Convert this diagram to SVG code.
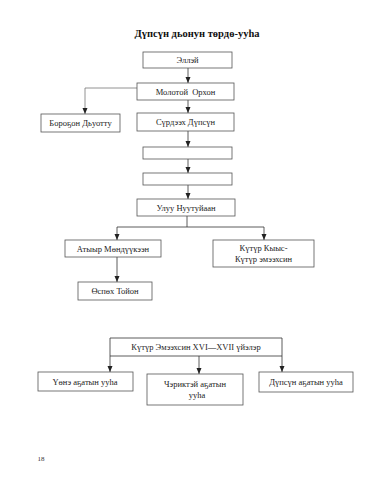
<svg xmlns="http://www.w3.org/2000/svg" width="382" height="480" viewBox="0 0 382 480">
<style>
.box{fill:#fff;stroke:#555;stroke-width:0.8}
.t{font-family:"Liberation Serif","DejaVu Serif",serif;font-size:8.5px;fill:#222;text-anchor:middle}
.title{font-family:"Liberation Serif","DejaVu Serif",serif;font-size:10.5px;font-weight:bold;fill:#111;text-anchor:middle}
.c{fill:none;stroke:#333;stroke-width:0.8}
.cl{fill:none;stroke:#777;stroke-width:0.8}
</style>
<defs>
<marker id="ah" viewBox="0 0 6 6" refX="6" refY="3" markerWidth="6" markerHeight="6" markerUnits="userSpaceOnUse" orient="auto">
<path d="M0,0.5 L6,3 L0,5.5 Z" fill="#222"/>
</marker>
</defs>
<rect width="382" height="480" fill="#fff"/>
<text class="title" x="197" y="37">Дүпсүн дьонун төрдө-ууһа</text>

<g id="connectors">
<path class="c" d="M188,68 V83" marker-end="url(#ah)"/>
<path class="cl" d="M137,88 H85 V114" marker-end="url(#ah)"/>
<path class="c" d="M188,100 V113" marker-end="url(#ah)"/>
<path class="c" d="M188,131 V147" marker-end="url(#ah)"/>
<path class="c" d="M188,159 V173" marker-end="url(#ah)"/>
<path class="c" d="M188,185 V199" marker-end="url(#ah)"/>
<path class="c" d="M187,216 V227"/>
<path class="c" d="M117,227 H264"/>
<path class="c" d="M117,227 V240" marker-end="url(#ah)"/>
<path class="c" d="M264,227 V240" marker-end="url(#ah)"/>
<path class="c" d="M117,257 V282" marker-end="url(#ah)"/>
<path class="c" d="M110,338 H282"/>
<path class="c" d="M110,356 H282"/>
<path class="c" d="M110,338 V372" marker-end="url(#ah)"/>
<path class="c" d="M282,338 V372" marker-end="url(#ah)"/>
<path class="c" d="M199,356 V374" marker-end="url(#ah)"/>
</g>

<g id="n-ellei"><rect class="box" x="143" y="52" width="89" height="16"/><text class="t" x="187.5" y="63">Эллэй</text></g>
<g id="n-molotoi"><rect class="box" x="137" y="83" width="97" height="17"/><text class="t" x="185.5" y="94.5" xml:space="preserve">Молотой  Орхон</text></g>
<g id="n-borogon"><rect class="box" x="41" y="114" width="79" height="18"/><text class="t" x="80.5" y="126">Бороҕон Дьуотту</text></g>
<g id="n-surdeeh"><rect class="box" x="137" y="113" width="97" height="18"/><text class="t" x="185.5" y="125">Сүрдээх Дүпсүн</text></g>
<g id="n-empty1"><rect class="box" x="143" y="147" width="89" height="12"/></g>
<g id="n-empty2"><rect class="box" x="143" y="173" width="89" height="12"/></g>
<g id="n-uluu"><rect class="box" x="137" y="199" width="98" height="17"/><text class="t" x="186" y="210.5">Улуу Нуутуйаан</text></g>
<g id="n-atyyr"><rect class="box" x="65" y="240" width="96" height="17"/><text class="t" x="113" y="251.5">Атыыр Мөндүүкээн</text></g>
<g id="n-kutur"><rect class="box" x="213" y="240" width="101" height="27"/><text class="t" x="263.5" y="251">Күтүр Кыыс-</text><text class="t" x="263.5" y="262">Күтүр эмээхсин</text></g>
<g id="n-ospoh"><rect class="box" x="78" y="282" width="74" height="18"/><text class="t" x="115" y="294">Өспөх Тойон</text></g>
<g id="n-kutur-emeehsin"><text class="t" x="196" y="350">Күтүр Эмээхсин XVI—XVII үйэлэр</text></g>
<g id="n-uone"><rect class="box" x="38" y="372" width="95" height="19"/><text class="t" x="85" y="384.5">Үөнэ аҕатын ууһа</text></g>
<g id="n-cheriktei"><rect class="box" x="147" y="374" width="96" height="31"/><text class="t" x="195" y="387">Чэриктэй аҕатын</text><text class="t" x="197" y="398">ууһа</text></g>
<g id="n-dupsun"><rect class="box" x="259" y="372" width="94" height="20"/><text class="t" x="306" y="385">Дүпсүн аҕатын ууһа</text></g>

<text x="41" y="461" style="font-family:'Liberation Serif',serif;font-size:7px;fill:#333;text-anchor:middle">18</text>
</svg>
